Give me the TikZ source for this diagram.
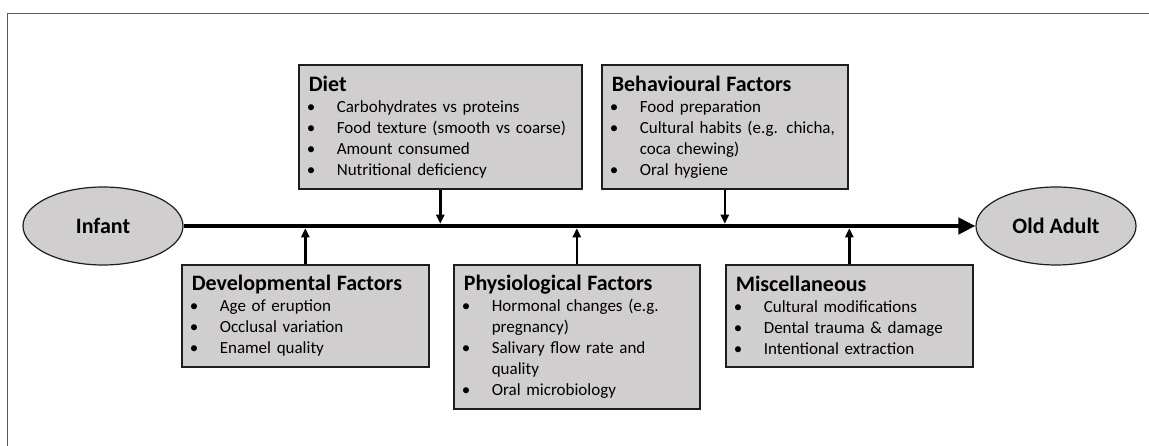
\documentclass[tikz,border=0pt]{standalone}
\usepackage{fontspec}
\setmainfont{Carlito}
\usetikzlibrary{shapes.geometric,arrows.meta}
\definecolor{boxgrey}{HTML}{D0CECE}
\definecolor{edgegrey}{HTML}{1E1E1E}
\definecolor{framegrey}{HTML}{5A5A5A}
\newcommand\bul{\makebox[28pt][l]{\hspace{-2pt}\textbullet}}
\newcommand\cnt{\hspace*{28pt}}
\newcommand\ttl[1]{{\fontsize{22}{21}\selectfont\bfseries #1}\par}
\tikzset{
  factor/.style={draw=edgegrey, line width=1.6pt, fill=boxgrey, anchor=north west,
    inner xsep=10pt, inner ysep=0pt, align=left,
    font=\fontsize{17}{21}\selectfont},
  stage/.style={ellipse, draw=edgegrey, line width=1.2pt, fill=boxgrey,
    minimum width=160pt, minimum height=78pt, inner sep=0pt,
    font=\fontsize{22}{26}\selectfont\bfseries},
  mainarrow/.style={line width=4.8pt, -{Triangle[length=17pt,width=16pt]}},
  feed/.style={line width=2.4pt, -{Triangle[length=9pt,width=8pt]}}
}
\begin{document}
\begin{tikzpicture}[x=1pt,y=-1pt]
\useasboundingbox (0,0) rectangle (1149,446);
\draw[framegrey, line width=1pt] (7.5,446) -- (7.5,13.5) -- (1149,13.5);

\node[stage] (infant) at (103,226) {Infant};
\node[stage] (old) at (1056,226) {Old Adult};

\node[factor, text width=263pt, minimum height=124pt] (diet) at (298,64) {%
\ttl{Diet}
\bul Carbohydrates vs proteins\par
\bul Food texture (smooth vs coarse)\par
\bul Amount consumed\par
\bul Nutritional deficiency};

\node[factor, text width=226pt, minimum height=124pt] (behav) at (601,64) {%
\ttl{Behavioural Factors}
\bul Food preparation\par
\bul Cultural habits (e.g. chicha,\par
\cnt coca chewing)\par
\bul Oral hygiene};

\node[factor, text width=227pt, minimum height=102pt] (devel) at (181,264) {%
\ttl{Developmental Factors}
\bul Age of eruption\par
\bul Occlusal variation\par
\bul Enamel quality};

\node[factor, text width=226pt, minimum height=144pt] (physio) at (453,264) {%
\ttl{Physiological Factors}
\bul Hormonal changes (e.g.\par
\cnt pregnancy)\par
\bul Salivary flow rate and\par
\cnt quality\par
\bul Oral microbiology};

\node[factor, text width=227pt, minimum height=102pt] (misc) at (725,264) {%
\ttl{Miscellaneous}
\bul Cultural modifications\par
\bul Dental trauma \& damage\par
\bul Intentional extraction};

\draw[mainarrow] (infant.east) -- (old.west);

\draw[feed, shorten >=2.3pt] (diet.south) -- (diet.south |- infant.east);
\draw[feed, shorten >=2.3pt] (behav.south) -- (behav.south |- infant.east);
\draw[feed, shorten >=2.3pt] (devel.north) -- (devel.north |- infant.east);
\draw[feed, shorten >=2.3pt] (physio.north) -- (physio.north |- infant.east);
\draw[feed, shorten >=2.3pt] (misc.north) -- (misc.north |- infant.east);
\end{tikzpicture}
\end{document}
